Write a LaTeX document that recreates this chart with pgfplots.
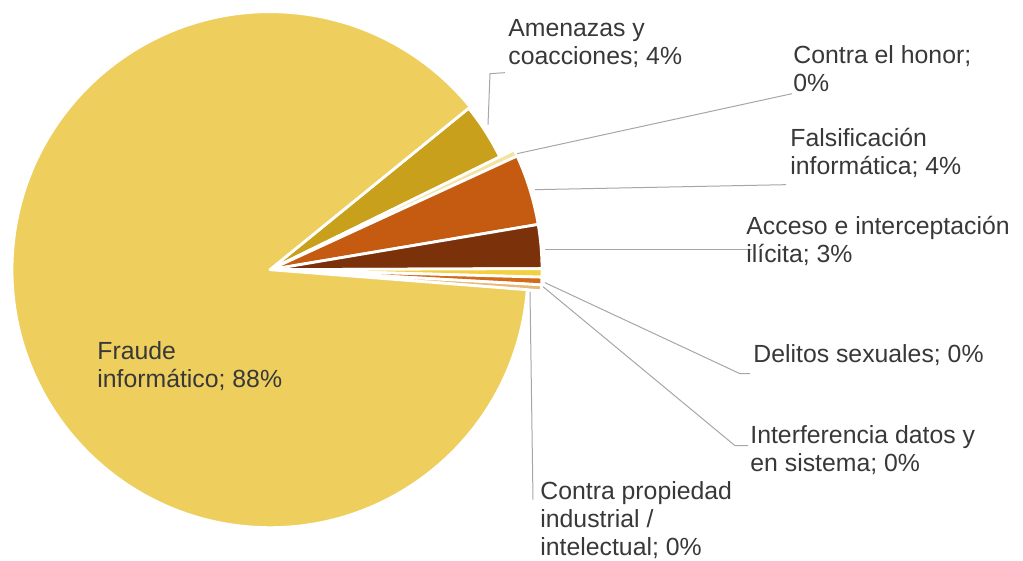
\documentclass[border=0pt]{standalone}
\usepackage{fontspec}
\setmainfont{Liberation Sans}
\usepackage{pgfplots}
\usepackage{pgfplotstable}
\pgfplotsset{compat=1.18}
\definecolor{cfraude}{HTML}{EECF5E}
\definecolor{camen}{HTML}{C9A01C}
\definecolor{chonor}{HTML}{F4E2A0}
\definecolor{cfals}{HTML}{C55A11}
\definecolor{cacc}{HTML}{7B320B}
\definecolor{cdel}{HTML}{F2D040}
\definecolor{cint}{HTML}{D26A1E}
\definecolor{cprop}{HTML}{E9B878}
\definecolor{lead}{HTML}{A6A6A6}
\definecolor{txt}{HTML}{383838}
% value (%), colour, radius (pt)
\pgfplotstableread{
name v c r
Amenazas 3.6 camen 128
Honor 0.4 chonor 136
Falsificacion 4.2 cfals 136
Acceso 2.6 cacc 136
Delitos 0.5 cdel 136
Interferencia 0.45 cint 136
Propiedad 0.35 cprop 136
Fraude 87.9 cfraude 129
}\piedata
\begin{document}
\begin{tikzpicture}
\begin{axis}[
  x=0.5pt, y=0.5pt, y dir=reverse,
  xmin=0, xmax=1023, ymin=0, ymax=559,
  hide axis, clip=false, scale only axis,
]
\addplot[draw=none] coordinates {(0,0) (1023,559)};
\pgfplotstablegetrowsof{\piedata}
\pgfmathtruncatemacro\N{\pgfplotsretval-1}
\def\cumangle{39.1}
\pgfplotsforeachungrouped \i in {0,...,\N}{%
  \pgfplotstablegetelem{\i}{v}\of\piedata \let\vv\pgfplotsretval
  \pgfplotstablegetelem{\i}{c}\of\piedata \let\cc\pgfplotsretval
  \pgfplotstablegetelem{\i}{r}\of\piedata \let\rr\pgfplotsretval
  \pgfmathsetmacro\endangle{\cumangle - 3.6*\vv}%
  \edef\temp{\noexpand\fill[fill=\cc, draw=white, line width=1.4pt, line join=round]
    (axis cs:270,268) -- ++(\cumangle:\rr pt) arc[start angle=\cumangle, end angle=\endangle, radius=\rr pt] -- cycle;}%
  \temp
  \global\let\cumangle\endangle
}
% leader lines
\draw[lead, line width=0.5pt] (axis cs:488,123) -- (axis cs:490,72) -- (axis cs:505,71);
\draw[lead, line width=0.5pt] (axis cs:517,152) -- (axis cs:792,92);
\draw[lead, line width=0.5pt] (axis cs:535,188) -- (axis cs:786,183);
\draw[lead, line width=0.5pt] (axis cs:545,248) -- (axis cs:752,248);
\draw[lead, line width=0.5pt] (axis cs:545,281) -- (axis cs:740,372) -- (axis cs:750,372);
\draw[lead, line width=0.5pt] (axis cs:543,285) -- (axis cs:735,444) -- (axis cs:748,444);
\draw[lead, line width=0.5pt] (axis cs:530,290) -- (axis cs:533,498);
% labels
\begin{scope}[every node/.style={anchor=west, align=left, inner sep=0pt, text=txt, font=\fontsize{12.4}{14}\selectfont}]
\node at (axis cs:508,42) {Amenazas y\\coacciones; 4\%};
\node at (axis cs:793,67) {Contra el honor;\\0\%};
\node at (axis cs:790,151) {Falsificación\\informática; 4\%};
\node at (axis cs:746,239) {Acceso e interceptación\\ilícita; 3\%};
\node at (axis cs:753,353) {Delitos sexuales; 0\%};
\node at (axis cs:750,448) {Interferencia datos y\\en sistema; 0\%};
\node at (axis cs:540,518) {Contra propiedad\\industrial /\\intelectual; 0\%};
\node at (axis cs:97,364) {Fraude\\informático; 88\%};
\end{scope}
\end{axis}
\end{tikzpicture}
\end{document}
